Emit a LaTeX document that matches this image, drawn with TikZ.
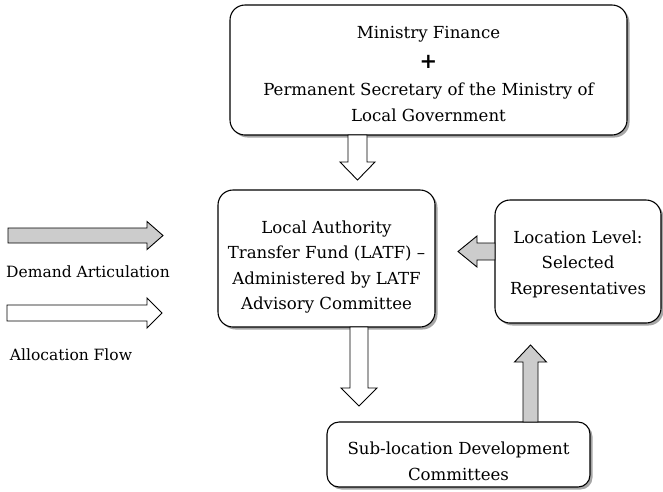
\documentclass[tikz,border=0pt]{standalone}
\usepackage{fontspec}
\setmainfont{DejaVu Serif}
\usetikzlibrary{shadows}
\newdimen\fax \newdimen\fay \newdimen\fbx \newdimen\fby
\newcommand\fatarr[6]{% fill, from, to, half shaft, half head, head length
  \pgfextractx{\fax}{\pgfpointanchor{#2}{center}}%
  \pgfextracty{\fay}{\pgfpointanchor{#2}{center}}%
  \pgfextractx{\fbx}{\pgfpointanchor{#3}{center}}%
  \pgfextracty{\fby}{\pgfpointanchor{#3}{center}}%
  \pgfmathsetmacro\fang{atan2(\fby-\fay,\fbx-\fax)}%
  \pgfmathsetmacro\flen{veclen(\fbx-\fax,\fby-\fay)}%
  \pgfmathsetmacro\fneck{\flen-#6}%
  \draw[fatarrow,fill=#1,shift={(\fax,\fay)},rotate=\fang]
    (0pt,-#4pt) -- (\fneck pt,-#4pt) -- (\fneck pt,-#5pt) -- (\flen pt,0pt)
    -- (\fneck pt,#5pt) -- (\fneck pt,#4pt) -- (0pt,#4pt) -- cycle;}
\newcommand\lowtext[2]{\raisebox{-#1}[\height][\depth]{\begin{tabular}{@{}c@{}}#2\end{tabular}}}
\begin{document}
\begin{tikzpicture}[x=1pt,y=-1pt,
  txt/.style={font=\fontsize{15.5}{25.5}\selectfont, inner sep=0pt},
  box/.style={font=\fontsize{16.6}{25.5}\selectfont, inner sep=0pt, draw, line width=1.1pt,
    fill=white, rounded corners=15pt,
    drop shadow={shadow xshift=2.5pt, shadow yshift=-2.5pt, fill=black, opacity=0.35}},
  fatarrow/.style={draw, line width=0.9pt, line join=miter}]
\useasboundingbox (0,0) rectangle (663,491);
\colorlet{arrgray}{gray!40}

\node[box, minimum width=397pt, minimum height=130pt] (top) at (428.5,70)
  {\lowtext{5pt}{Ministry Finance\\[4pt]{\fontsize{21}{21}\selectfont\bfseries +}\\[2pt]Permanent Secretary of the Ministry of\\Local Government}};
\node[box, minimum width=217pt, minimum height=137pt] (ctr) at (326.5,258.5)
  {\lowtext{8pt}{Local Authority\\Transfer Fund (LATF) --\\Administered by LATF\\Advisory Committee}};
\node[box, minimum width=166pt, minimum height=123pt] (loc) at (578,261.5)
  {\lowtext{2pt}{Location Level:\\Selected\\Representatives}};
\node[box, minimum width=263pt, minimum height=65pt, rounded corners=12pt] (sub) at (458.5,454.5)
  {\lowtext{8pt}{Sub-location Development\\Committees}};

\node[txt] (dem) at (88,272) {Demand Articulation};
\node[txt] (all) at (71,355) {Allocation Flow};

\coordinate (a1s) at (357.5,135);  \coordinate (a1e) at (357.5,180);
\coordinate (a2s) at (359,327);    \coordinate (a2e) at (359,406);
\coordinate (a3s) at (530.5,422);  \coordinate (a3e) at (530.5,345);
\coordinate (a4s) at (495,251.5);  \coordinate (a4e) at (458,251.5);
\coordinate (l1s) at (8,235.5);    \coordinate (l1e) at (163,235.5);
\coordinate (l2s) at (7,313);      \coordinate (l2e) at (162,313);

\fatarr{white}{a1s}{a1e}{9.5}{17.5}{18}
\fatarr{white}{a2s}{a2e}{9}{18}{18}
\fatarr{arrgray}{a3s}{a3e}{7.5}{16}{17}
\fatarr{arrgray}{a4s}{a4e}{8.5}{15.5}{19}
\fatarr{arrgray}{l1s}{l1e}{7.5}{14}{16}
\fatarr{white}{l2s}{l2e}{8}{15}{15}
\end{tikzpicture}
\end{document}
